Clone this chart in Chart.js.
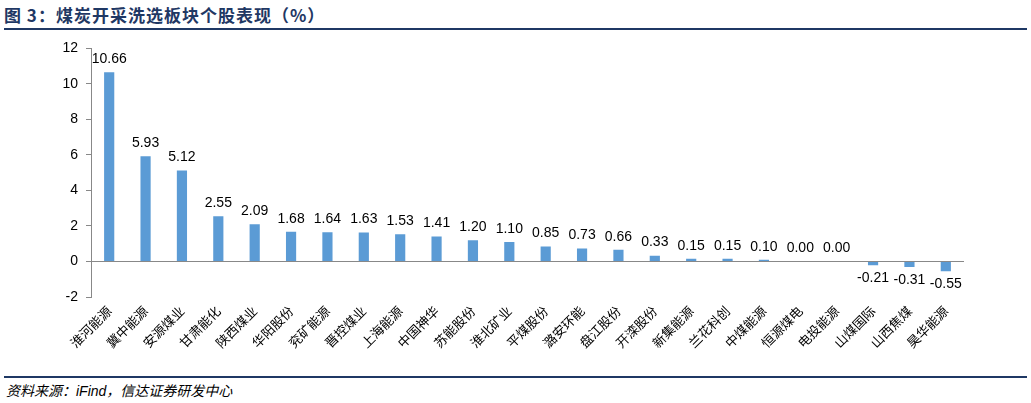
<!DOCTYPE html>
<html><head><meta charset="utf-8">
<script src="https://cdn.jsdelivr.net/npm/chart.js@4/dist/chart.umd.min.js"></script>
<style>
body{margin:0;width:1031px;height:403px;background:#fff;position:relative;overflow:hidden;font-family:"Noto Sans CJK SC",sans-serif}
#title{position:absolute;left:4px;top:2px;font-size:17px;font-weight:bold;color:#1f3864;letter-spacing:1px}
#l1{position:absolute;left:4px;right:4px;top:28px;border-top:2px solid #1f3864}
#l2{position:absolute;left:4px;right:4px;top:376px;border-top:2px solid #1f3864}
#src{position:absolute;left:6px;top:380px;font-size:14px;font-style:italic;color:#000}
#wrap{position:absolute;left:40px;top:32px;width:930px;height:342px}
</style></head><body>
<div id="title">图 3：煤炭开采洗选板块个股表现（%）</div>
<div id="l1"></div>
<div id="wrap"><canvas id="c"></canvas></div>
<div id="l2"></div>
<div id="src">资料来源：<span style="font-family:'Liberation Sans'">iFind</span>，信达证券研发中心</div>
<script>
const categories=["淮河能源","冀中能源","安源煤业","甘肃能化","陕西煤业","华阳股份","兖矿能源","晋控煤业","上海能源","中国神华","苏能股份","淮北矿业","平煤股份","潞安环能","盘江股份","开滦股份","新集能源","兰花科创","中煤能源","恒源煤电","电投能源","山煤国际","山西焦煤","昊华能源"];
const values=[10.66,5.93,5.12,2.55,2.09,1.68,1.64,1.63,1.53,1.41,1.20,1.10,0.85,0.73,0.66,0.33,0.15,0.15,0.10,0.00,0.00,-0.21,-0.31,-0.55];
const yTicks=[-2,0,2,4,6,8,10,12];
const lbl={id:'lbl',afterDatasetsDraw(ch){const c=ch.ctx,m=ch.getDatasetMeta(0);c.save();c.font='14px "Liberation Sans"';c.fillStyle='#000';c.textAlign='center';
m.data.forEach((b,i)=>{const v=values[i];if(v<0){c.textBaseline='top';c.fillText(v.toFixed(2),b.x,b.y+6);}else{c.textBaseline='bottom';c.fillText(v.toFixed(2),b.x,b.y-6);}});c.restore();}};
new Chart(document.getElementById('c'),{type:'bar',data:{labels:categories,datasets:[{data:values,backgroundColor:'#5b9bd5',barPercentage:0.28,categoryPercentage:1}]},
options:{responsive:true,maintainAspectRatio:false,animation:false,layout:{padding:{top:8,right:6,bottom:0}},plugins:{legend:{display:false},tooltip:{enabled:false}},
scales:{x:{afterFit(s){s.height=77;},grid:{display:false,drawTicks:false},border:{display:false},ticks:{autoSkip:false,minRotation:45,maxRotation:45,color:'#000',font:{size:13,family:'"Noto Sans CJK SC"'},padding:6}},
y:{min:-2,max:12,afterFit(s){s.width=51;},afterBuildTicks(s){s.ticks=yTicks.map(v=>({value:v}));},border:{display:true,color:'#888'},grid:{drawOnChartArea:true,color:ctx=>ctx.tick&&ctx.tick.value===0?'#888':'transparent',tickLength:5,tickColor:'#888'},ticks:{color:'#000',font:{size:14,family:'"Liberation Sans"'},padding:8}}}},plugins:[lbl]});
</script></body></html>
